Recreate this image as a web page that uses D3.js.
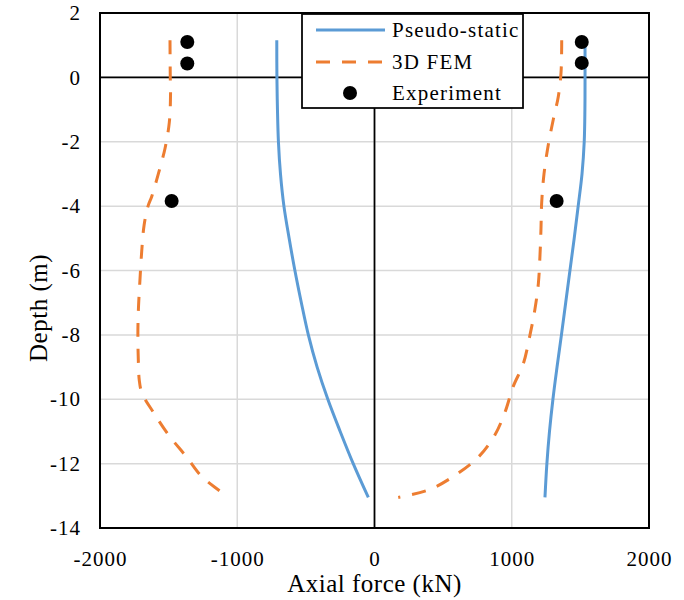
<!DOCTYPE html>
<html lang="en">
<head>
  <meta charset="UTF-8">
  <title>Axial force vs depth</title>
  <script src="https://d3js.org/d3.v7.min.js"></script>
  <style>
    body {
      margin: 0;
      background: #fff;
    }
    svg, svg text {
      display: block;
      font-family: "Times New Roman", "Liberation Serif", "DejaVu Serif", serif;
    }
  </style>
</head>
<body>
  <svg id="chart" width="684" height="600"></svg>

  <script>
// ticks
const xTicks = [-2000, -1000, 0, 1000, 2000];
const yTicks = [2, 0, -2, -4, -6, -8, -10, -12, -14];

// Pseudo-static (same depths for both branches)
const pseudoDepth = [1.15, 0, -1, -2, -3, -4, -5, -6, -7, -8, -9, -10, -11, -12, -13.05];
const pseudoNeg = [-712, -711, -707, -700, -685, -660, -622, -580, -533, -482, -418, -340, -250, -155, -45];
const pseudoPos = [1534, 1534, 1533, 1528, 1512, 1484, 1455, 1424, 1393, 1362, 1330, 1300, 1275, 1256, 1242];

// 3D FEM
const femDepthNeg = [1.15, 0, -0.5, -1.4, -2.2, -3.0, -3.7, -4.0, -4.6, -5.4, -6.3, -7.3, -8.1, -8.9, -9.4, -9.8, -10.4, -11.1, -11.8, -12.4, -12.9, -13.05];
const femNeg = [-1490, -1488, -1486, -1495, -1526, -1575, -1623, -1650, -1679, -1696, -1709, -1721, -1724, -1720, -1714, -1695, -1612, -1502, -1368, -1259, -1113, -1077];
const femDepthPos = [1.15, 0.15, -0.6, -1.3, -2.1, -3.0, -3.9, -4.7, -5.5, -6.4, -7.2, -8.0, -8.9, -9.6, -10.4, -11.1, -11.8, -12.4, -12.8, -13.0, -13.05];
const femPos = [1364, 1359, 1339, 1303, 1266, 1235, 1218, 1213, 1206, 1194, 1169, 1133, 1084, 1011, 951, 878, 756, 574, 404, 230, 173];

// Experiment
const expForce = [-1364, -1364, -1478, 1510, 1510, 1327];
const expDepth = [1.1, 0.43, -3.84, 1.1, 0.45, -3.84];

const legendNames = ["Pseudo-static", "3D FEM", "Experiment"];

const blue = "#5B9BD5";
const orange = "#ED7D31";
const serif = "'Times New Roman', 'Liberation Serif', 'DejaVu Serif', serif";

const svg = d3.select("#chart");
const margin = { top: 13, right: 35, bottom: 72, left: 100 };
const width = +svg.attr("width");
const height = +svg.attr("height");

const x = d3.scaleLinear().domain([-2000, 2000]).range([margin.left, width - margin.right]);
const y = d3.scaleLinear().domain([2, -14]).range([margin.top, height - margin.bottom]);

svg.append("rect")
  .attr("width", width)
  .attr("height", height)
  .attr("fill", "#fff");

// grid
svg.append("g")
  .selectAll("line")
  .data(xTicks)
  .enter().append("line")
  .attr("x1", d => x(d)).attr("x2", d => x(d))
  .attr("y1", y(2)).attr("y2", y(-14))
  .attr("stroke", "#d9d9d9")
  .attr("stroke-width", 1.5);

svg.append("g")
  .selectAll("line")
  .data(yTicks)
  .enter().append("line")
  .attr("x1", x(-2000)).attr("x2", x(2000))
  .attr("y1", d => y(d)).attr("y2", d => y(d))
  .attr("stroke", "#d9d9d9")
  .attr("stroke-width", 1.5);

// zero lines
svg.append("line")
  .attr("x1", x(0)).attr("x2", x(0))
  .attr("y1", y(2)).attr("y2", y(-14))
  .attr("stroke", "#000").attr("stroke-width", 1.75);
svg.append("line")
  .attr("x1", x(-2000)).attr("x2", x(2000))
  .attr("y1", y(0)).attr("y2", y(0))
  .attr("stroke", "#000").attr("stroke-width", 1.75);

// frame
svg.append("rect")
  .attr("x", x(-2000))
  .attr("y", y(2))
  .attr("width", x(2000) - x(-2000))
  .attr("height", y(-14) - y(2))
  .attr("fill", "none")
  .attr("stroke", "#000")
  .attr("stroke-width", 2);

// axes (labels only)
const xAxis = svg.append("g")
  .attr("transform", `translate(0,${y(-14) + 20})`)
  .call(d3.axisBottom(x).tickValues(xTicks).tickSize(0).tickFormat(d => String(d)));
xAxis.attr("font-family", serif);
xAxis.select(".domain").remove();
xAxis.selectAll("text")
  .attr("dy", "0.71em")
  .attr("font-size", "21px")
  .attr("fill", "#000")
  .style("letter-spacing", "1px");

const yAxis = svg.append("g")
  .attr("transform", `translate(${x(-2000) - 19},0)`)
  .call(d3.axisLeft(y).tickValues(yTicks).tickSize(0).tickFormat(d => String(d)));
yAxis.attr("font-family", serif);
yAxis.select(".domain").remove();
yAxis.selectAll("text")
  .attr("x", 0)
  .attr("font-size", "21px")
  .attr("fill", "#000")
  .style("letter-spacing", "1px");

// axis titles
svg.append("text")
  .attr("x", x(0))
  .attr("y", 592)
  .attr("text-anchor", "middle")
  .attr("font-size", "25px")
  .style("letter-spacing", "0.5px")
  .text("Axial force (kN)");

svg.append("text")
  .attr("transform", `translate(47,308) rotate(-90)`)
  .attr("text-anchor", "middle")
  .attr("font-size", "25px")
  .style("letter-spacing", "0.5px")
  .text("Depth (m)");

// series
const line = d3.line()
  .x(d => x(d[0]))
  .y(d => y(d[1]))
  .curve(d3.curveCatmullRom.alpha(0.5));

const zipped = (forces, depths) => forces.map((f, i) => [f, depths[i]]);

[pseudoNeg, pseudoPos].forEach(arr => {
  svg.append("path")
    .datum(zipped(arr, pseudoDepth))
    .attr("d", line)
    .attr("fill", "none")
    .attr("stroke", blue)
    .attr("stroke-width", 3);
});

[[femNeg, femDepthNeg], [femPos, femDepthPos]].forEach(([arr, dep]) => {
  svg.append("path")
    .datum(zipped(arr, dep))
    .attr("d", line)
    .attr("fill", "none")
    .attr("stroke", orange)
    .attr("stroke-width", 3)
    .attr("stroke-dasharray", "14,12");
});

svg.append("g")
  .selectAll("circle")
  .data(zipped(expForce, expDepth))
  .enter().append("circle")
  .attr("cx", d => x(d[0]))
  .attr("cy", d => y(d[1]))
  .attr("r", 7)
  .attr("fill", "#000");

// legend
const legend = svg.append("g");
legend.append("rect")
  .attr("x", 302)
  .attr("y", 14)
  .attr("width", 221)
  .attr("height", 94)
  .attr("fill", "#fff")
  .attr("stroke", "#000")
  .attr("stroke-width", 1.75);

const rowY = [30, 62, 93];
legend.append("line")
  .attr("x1", 316).attr("x2", 385)
  .attr("y1", rowY[0]).attr("y2", rowY[0])
  .attr("stroke", blue).attr("stroke-width", 3);
legend.append("line")
  .attr("x1", 316).attr("x2", 385)
  .attr("y1", rowY[1]).attr("y2", rowY[1])
  .attr("stroke", orange).attr("stroke-width", 3)
  .attr("stroke-dasharray", "14,12");
legend.append("circle")
  .attr("cx", 350).attr("cy", rowY[2])
  .attr("r", 7).attr("fill", "#000");

legend.selectAll("text.lbl")
  .data(legendNames)
  .enter().append("text")
  .attr("class", "lbl")
  .attr("x", 392)
  .attr("y", (d, i) => rowY[i] + 7)
  .attr("font-size", "21px")
  .style("letter-spacing", "1.2px")
  .text(d => d);
  </script>
</body>
</html>
